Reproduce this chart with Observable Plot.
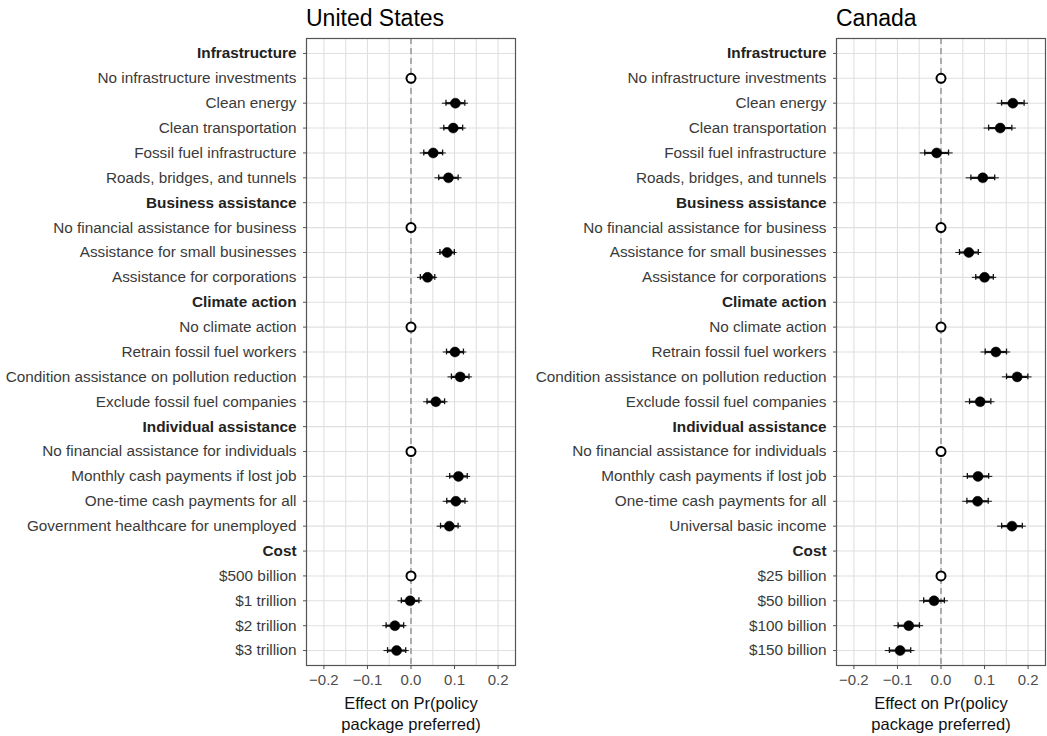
<!DOCTYPE html>
<html>
<head>
<meta charset="utf-8">
<script src="https://cdn.jsdelivr.net/npm/d3@7"></script>
<script src="https://cdn.jsdelivr.net/npm/@observablehq/plot@0.6"></script>
<style>
  html, body { margin: 0; padding: 0; background: #fff; overflow: hidden; }
  #wrap { position: relative; width: 1047px; height: 736px; font-family: "Liberation Sans", Arial, sans-serif; }
  .panel { position: absolute; top: 0; }
  .title { position: absolute; top: 7px; font-size: 23px; line-height: 1; color: #000; }
</style>
</head>
<body>
<div id="wrap"></div>
<script>
// ---- data ----
const headers = ["Infrastructure", "Business assistance", "Climate action", "Individual assistance", "Cost"];

const usLabels = [
  "Infrastructure", "No infrastructure investments", "Clean energy", "Clean transportation",
  "Fossil fuel infrastructure", "Roads, bridges, and tunnels",
  "Business assistance", "No financial assistance for business", "Assistance for small businesses",
  "Assistance for corporations",
  "Climate action", "No climate action", "Retrain fossil fuel workers",
  "Condition assistance on pollution reduction", "Exclude fossil fuel companies",
  "Individual assistance", "No financial assistance for individuals", "Monthly cash payments if lost job",
  "One-time cash payments for all", "Government healthcare for unemployed",
  "Cost", "$500 billion", "$1 trillion", "$2 trillion", "$3 trillion"
];
const usEst = [null, 0, 0.102, 0.097, 0.051, 0.086,
  null, 0, 0.083, 0.038,
  null, 0, 0.101, 0.113, 0.057,
  null, 0, 0.109, 0.103, 0.088,
  null, 0, -0.002, -0.037, -0.033];
const usHw = [null, 0, 0.030, 0.030, 0.030, 0.031,
  null, 0, 0.023, 0.023,
  null, 0, 0.027, 0.028, 0.028,
  null, 0, 0.028, 0.029, 0.028,
  null, 0, 0.028, 0.028, 0.029];

const caLabels = [
  "Infrastructure", "No infrastructure investments", "Clean energy", "Clean transportation",
  "Fossil fuel infrastructure", "Roads, bridges, and tunnels",
  "Business assistance", "No financial assistance for business", "Assistance for small businesses",
  "Assistance for corporations",
  "Climate action", "No climate action", "Retrain fossil fuel workers",
  "Condition assistance on pollution reduction", "Exclude fossil fuel companies",
  "Individual assistance", "No financial assistance for individuals", "Monthly cash payments if lost job",
  "One-time cash payments for all", "Universal basic income",
  "Cost", "$25 billion", "$50 billion", "$100 billion", "$150 billion"
];
const caEst = [null, 0, 0.165, 0.136, -0.010, 0.096,
  null, 0, 0.064, 0.100,
  null, 0, 0.126, 0.175, 0.090,
  null, 0, 0.085, 0.084, 0.163,
  null, 0, -0.016, -0.074, -0.094];
const caHw = [null, 0, 0.036, 0.037, 0.038, 0.038,
  null, 0, 0.030, 0.028,
  null, 0, 0.034, 0.034, 0.034,
  null, 0, 0.034, 0.034, 0.033,
  null, 0, 0.033, 0.034, 0.034];

const xTicks = [-0.2, -0.1, 0, 0.1, 0.2];
const xGrid = [-0.2, -0.15, -0.1, -0.05, 0, 0.05, 0.1, 0.15, 0.2];
const xLabel = "Effect on Pr(policy\npackage preferred)";
const innerFrac = 0.72; // inner interval relative to outer

function panel(title, labels, est, hw, left, width, ml, mr) {
  const rows = labels.map((label, i) => ({label, est: est[i], hw: hw[i], header: headers.includes(label)}));
  const effects = rows.filter(d => !d.header && d.hw > 0);
  const refs = rows.filter(d => !d.header && d.hw === 0);
  const fmt = d3.format(".1f");
  const plot = Plot.plot({
    width, height: 736,
    marginLeft: ml, marginRight: mr, marginTop: 38, marginBottom: 71,
    style: {fontFamily: "'Liberation Sans', Arial, sans-serif", fontSize: "15px", background: "white"},
    x: {domain: [-0.24, 0.24], label: null},
    y: {type: "band", domain: labels, paddingInner: 0, paddingOuter: 0.1, round: false, label: null},
    marks: [
      Plot.gridX({ticks: xGrid, stroke: "#e0e0e0", strokeOpacity: 1, strokeWidth: 1.1}),
      Plot.gridY({stroke: "#e0e0e0", strokeOpacity: 1, strokeWidth: 1.1}),
      Plot.ruleX([0], {stroke: "#8a8a8a", strokeWidth: 1.3, strokeDasharray: "6,4"}),
      Plot.frame({stroke: "#555", strokeWidth: 1.2}),
      Plot.axisX({ticks: xTicks, tickFormat: fmt, tickSize: 4, tickPadding: 5, label: null, color: "#4d4d4d", fontSize: 15}),
      Plot.axisY({tickSize: 3, tickFormat: () => "", label: null, color: "#555"}),
      Plot.ruleY(effects, {y: "label", x1: d => d.est - d.hw, x2: d => d.est + d.hw, stroke: "#111", strokeWidth: 1}),
      Plot.ruleY(effects, {y: "label", x1: d => d.est - innerFrac * d.hw, x2: d => d.est + innerFrac * d.hw, stroke: "#111", strokeWidth: 2.2}),
      Plot.tickX(effects, {y: "label", x: d => d.est - innerFrac * d.hw, stroke: "#111", strokeWidth: 1.3, insetTop: 9.5, insetBottom: 9.5}),
      Plot.tickX(effects, {y: "label", x: d => d.est + innerFrac * d.hw, stroke: "#111", strokeWidth: 1.3, insetTop: 9.5, insetBottom: 9.5}),
      Plot.dot(effects, {x: "est", y: "label", r: 5, fill: "#000", stroke: "#000", strokeWidth: 0.5}),
      Plot.dot(refs, {x: "est", y: "label", r: 4.5, fill: "white", stroke: "#000", strokeWidth: 2}),
      Plot.text(rows.filter(d => !d.header), {y: "label", text: "label", frameAnchor: "left", textAnchor: "end", dx: -10, fontSize: 15.3, fill: "#3a3a3a"}),
      Plot.text(rows.filter(d => d.header), {y: "label", text: "label", frameAnchor: "left", textAnchor: "end", dx: -10, fontSize: 15.3, fontWeight: "bold", fill: "#222"}),
      Plot.text([xLabel], {frameAnchor: "bottom", text: d => d, dy: 47, lineAnchor: "middle", lineHeight: 1.3, fontSize: 16.5, fill: "#111"})
    ]
  });
  const div = document.createElement("div");
  div.className = "panel";
  div.style.left = left + "px";
  div.appendChild(plot);
  const t = document.createElement("div");
  t.className = "title";
  t.style.left = (left + ml) + "px";
  t.textContent = title;
  const wrap = document.getElementById("wrap");
  wrap.appendChild(div);
  wrap.appendChild(t);
}

panel("United States", usLabels, usEst, usHw, 0, 524, 306, 9);
panel("Canada", caLabels, caEst, caHw, 524, 523, 312, 2);
</script>
</body>
</html>
